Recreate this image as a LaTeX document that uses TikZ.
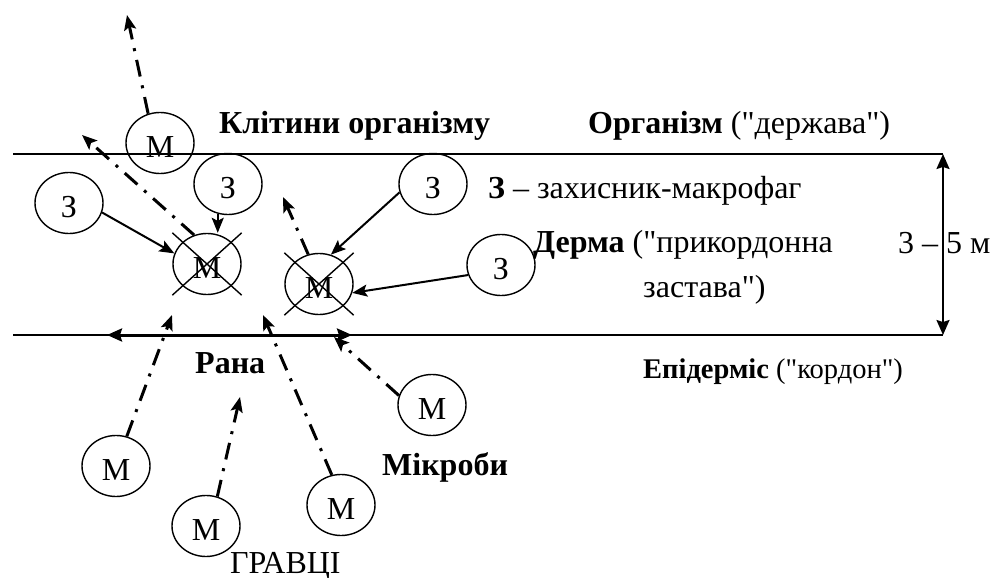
\documentclass[tikz,border=0pt]{standalone}
\usepackage{fontspec}
\setmainfont{Liberation Serif}[Ligatures=TeXOff]
\usetikzlibrary{arrows.meta,shapes.geometric}

\begin{document}
\begin{tikzpicture}[x=1pt,y=-1pt,
  bigfont/.style={font=\fontsize{32}{38}\selectfont},
  txt/.style={bigfont, inner sep=0pt, anchor=base west},
  cell/.style={ellipse, draw, line width=1.4pt, minimum width=68pt, minimum height=61pt, inner sep=0pt},
  lbl/.style={bigfont, yshift=-4pt},
  tip/.style={-{Stealth[length=15pt,width=12pt,inset=3pt]}},
  attack/.style={tip, line width=2pt},
  move/.style={tip, line width=3pt, dash pattern=on 17pt off 9pt on 3pt off 9pt},
  border/.style={line width=2pt},
  bothtips/.style={{Stealth[length=15pt,width=13pt,inset=2pt]}-{Stealth[length=15pt,width=13pt,inset=2pt]}},
]
\useasboundingbox (0,0) rectangle (997,578);

% skin layers
\coordinate (tl) at (13,154);  \coordinate (tr) at (943,154);
\coordinate (bl) at (13,335);  \coordinate (br) at (943,335);
\draw[border] (tl) -- (tr);
\draw[border] (bl) -- (br);
\draw[border, bothtips] (tr) -- (br);

% wound opening
\coordinate (w1) at (107,335); \coordinate (w2) at (352,335);
\draw[line width=3pt, bothtips] (w1) -- (w2);

% cells
\node[cell, label={[lbl]center:М}] (m1)  at (160,143) {};
\node[cell, label={[lbl]center:З}] (z1)  at (69,203)  {};
\node[cell, label={[lbl]center:З}] (z2)  at (228,184) {};
\node[cell, label={[lbl]center:М}] (mx1) at (207,264) {};
\node[cell, label={[lbl]center:М}] (mx2) at (319,284) {};
\node[cell, label={[lbl]center:З}] (z3)  at (433,184) {};
\node[cell, label={[lbl]center:З}] (z4)  at (501,265) {};
\node[cell, label={[lbl]center:М}] (ma)  at (116,466) {};
\node[cell, label={[lbl]center:М}] (mb)  at (206,526) {};
\node[cell, label={[lbl]center:М}] (mc)  at (341,505) {};
\node[cell, label={[lbl]center:М}] (md)  at (432,405) {};

% destroyed microbes
\foreach \n in {mx1,mx2}{
  \draw[line width=1.4pt] (\n.west |- \n.north) -- (\n.east |- \n.south);
  \draw[line width=1.4pt] (\n.east |- \n.north) -- (\n.west |- \n.south);
}

% defenders attacking
\draw[attack] (z1.-16) -- (mx1.162);
\draw[attack] (z2.-109) -- (z2.-109 |- mx1.north);
\draw[attack] (z3.194) -- (mx2.68);
\draw[attack] (z4.197) -- (mx2.-15);

% microbe movements
\coordinate (t1) at (127,15);  \draw[move] (m1.112) -- (t1);
\coordinate (t2) at (82,135);  \draw[move] (mx1.114) -- (t2);
\coordinate (t3) at (283,197); \draw[move] (mx2.110) -- (t3);
\coordinate (t4) at (172,315); \draw[move] (ma.70) -- (t4);
\coordinate (t5) at (240,397); \draw[move] (mb.69) -- (t5);
\coordinate (t6) at (263,315); \draw[move] (mc.107) -- (t6);
\coordinate (t7) at (334,337); \draw[move] (md.164) -- (t7);

% labels
\node[txt] (cells)    at (219,133) {\textbf{Клітини організму}};
\node[txt] (org)      at (588,133) {\textbf{Організм} ("держава")};
\node[txt] (legend)   at (488,198) {\textbf{З} – захисник-макрофаг};
\node[txt] (derma1)   at (533,252) {\textbf{Дерма} ("прикордонна};
\node[txt] (derma2)   at (643,297) {застава")};
\node[txt] (depth)    at (898,253) {3 – 5 м};
\node[txt, font=\fontsize{28.5}{34}\selectfont] (epi) at (643,378) {\textbf{Епідерміс} ("кордон")};
\node[txt] (wound)    at (195,373) {\textbf{Рана}};
\node[txt] (microbes) at (382,475) {\textbf{Мікроби}};
\node[txt] (players)  at (230,573) {ГРАВЦІ};
\end{tikzpicture}
\end{document}
